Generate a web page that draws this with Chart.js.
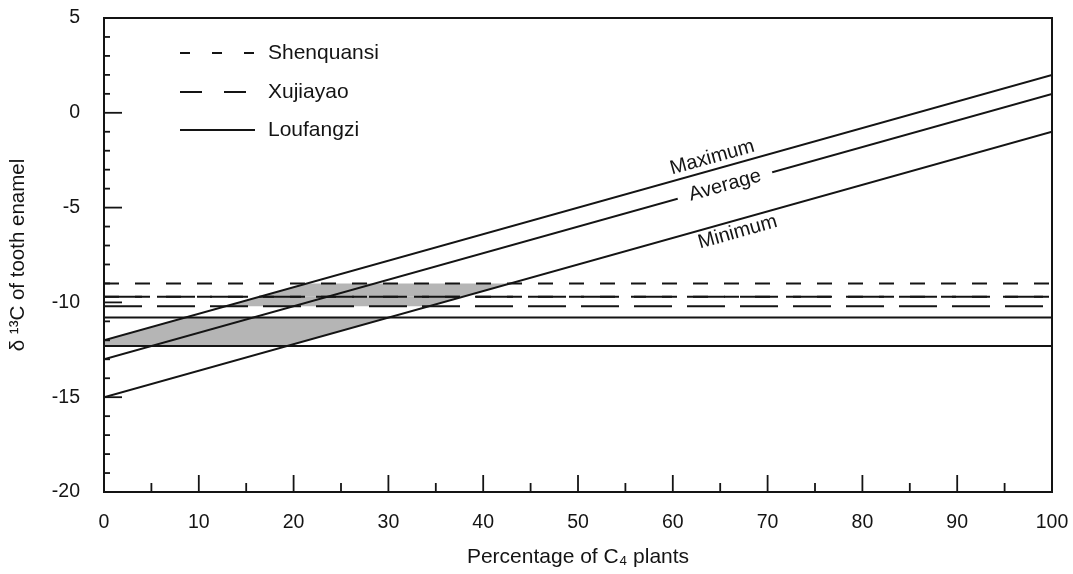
<!DOCTYPE html>
<html>
<head>
<meta charset="utf-8">
<script src="https://cdn.jsdelivr.net/npm/chart.js@4"></script>
<style>
  html, body { margin: 0; padding: 0; background: #fff; }
</style>
</head>
<body>
<canvas id="chart" width="1073" height="574"></canvas>
<script>
// regression lines: enamel d13C vs % C4 plants
const pctC4 = [0, 100];
const enamelMax = [-12, 2];
const enamelAvg = [-13, 1];
const enamelMin = [-15, -1];
const lineLabels = ['Maximum', 'Average', 'Minimum'];

// measured ranges per site
const siteNames = ['Shenquansi', 'Xujiayao', 'Loufangzi'];
const siteHigh = [-9.0, -9.7, -10.8];
const siteLow = [-9.7, -10.2, -12.3];
const siteDash = [[15, 16], [38, 15], []];

const xTicks = [0, 10, 20, 30, 40, 50, 60, 70, 80, 90, 100];
const yTicks = [-20, -15, -10, -5, 0, 5];

const ink = '#141414';
const shade = '#b5b5b5';
const fontFamily = '"Liberation Sans", Arial, Helvetica, sans-serif';

Chart.defaults.font.family = fontFamily;
Chart.defaults.color = ink;

const toPoints = (xs, ys) => xs.map((v, i) => ({ x: v, y: ys[i] }));

const datasets = [];
[enamelMax, enamelAvg, enamelMin].forEach((vals, i) => {
  datasets.push({
    label: lineLabels[i],
    data: toPoints(pctC4, vals),
    borderColor: ink,
    borderWidth: 2,
    pointRadius: 0,
    tension: 0
  });
});
siteNames.forEach((name, i) => {
  [siteHigh[i], siteLow[i]].forEach((v) => {
    datasets.push({
      label: name,
      data: toPoints([0, 100], [v, v]),
      borderColor: ink,
      borderWidth: 2,
      borderDash: siteDash[i],
      pointRadius: 0,
      tension: 0
    });
  });
});

// grey area between min and max lines inside each site's range
const shadeBands = {
  id: 'shadeBands',
  beforeDatasetsDraw(chart) {
    const { ctx, chartArea, scales: { x, y } } = chart;
    ctx.save();
    ctx.fillStyle = shade;
    siteNames.forEach((name, i) => {
      const top = y.getPixelForValue(siteHigh[i]);
      const bot = y.getPixelForValue(siteLow[i]);
      ctx.save();
      ctx.beginPath();
      ctx.rect(chartArea.left, top, chartArea.width, bot - top);
      ctx.clip();
      ctx.beginPath();
      pctC4.forEach((p, k) => {
        const px = x.getPixelForValue(p), py = y.getPixelForValue(enamelMax[k]);
        if (k === 0) ctx.moveTo(px, py); else ctx.lineTo(px, py);
      });
      for (let k = pctC4.length - 1; k >= 0; k--) {
        ctx.lineTo(x.getPixelForValue(pctC4[k]), y.getPixelForValue(enamelMin[k]));
      }
      ctx.closePath();
      ctx.fill();
      ctx.restore();
    });
    ctx.restore();
  }
};

// frame, inward ticks, line labels and legend
const decorations = {
  id: 'decorations',
  afterDatasetsDraw(chart) {
    const { ctx, chartArea: a, scales: { x, y } } = chart;
    ctx.save();
    ctx.strokeStyle = ink;
    ctx.lineWidth = 2;
    ctx.strokeRect(a.left, a.top, a.right - a.left, a.bottom - a.top);

    ctx.lineWidth = 1.8;
    y.ticks.forEach((t) => {
      const py = y.getPixelForValue(t.value);
      const len = t.value % 5 === 0 ? 18 : 6;
      ctx.beginPath();
      ctx.moveTo(a.left, py);
      ctx.lineTo(a.left + len, py);
      ctx.stroke();
    });
    x.ticks.forEach((t) => {
      const px = x.getPixelForValue(t.value);
      const len = t.value % 10 === 0 ? 17 : 9;
      ctx.beginPath();
      ctx.moveTo(px, a.bottom);
      ctx.lineTo(px, a.bottom - len);
      ctx.stroke();
    });

    // labels along the regression lines
    const labelAt = [64.5, 65.5, 66.5];
    const labelOffset = [-12, 0, 12];
    [enamelMax, enamelAvg, enamelMin].forEach((vals, i) => {
      const x0 = x.getPixelForValue(pctC4[0]), y0 = y.getPixelForValue(vals[0]);
      const x1 = x.getPixelForValue(pctC4[1]), y1 = y.getPixelForValue(vals[1]);
      const ang = Math.atan2(y1 - y0, x1 - x0);
      const f = (labelAt[i] - pctC4[0]) / (pctC4[1] - pctC4[0]);
      const cx = x0 + (x1 - x0) * f, cy = y0 + (y1 - y0) * f;
      ctx.save();
      ctx.translate(cx, cy);
      ctx.rotate(ang);
      ctx.font = '20px ' + fontFamily;
      ctx.textAlign = 'center';
      ctx.textBaseline = 'middle';
      if (labelOffset[i] === 0) {
        const w = ctx.measureText(lineLabels[i]).width + 24;
        ctx.fillStyle = '#fff';
        ctx.fillRect(-w / 2, -8, w, 16);
      }
      ctx.fillStyle = ink;
      ctx.fillText(lineLabels[i], 0, labelOffset[i]);
      ctx.restore();
    });

    // legend
    const legendY = [53, 92, 130];
    ctx.font = '21px ' + fontFamily;
    ctx.textAlign = 'left';
    ctx.textBaseline = 'middle';
    ctx.lineWidth = 2;
    siteNames.forEach((name, i) => {
      ctx.beginPath();
      ctx.setLineDash(i === 0 ? [10, 22] : i === 1 ? [22, 22] : []);
      ctx.moveTo(a.left + 76, legendY[i]);
      ctx.lineTo(a.left + 151, legendY[i]);
      ctx.stroke();
      ctx.setLineDash([]);
      ctx.fillStyle = ink;
      ctx.fillText(name, a.left + 164, legendY[i]);
    });
    ctx.restore();
  }
};

const noScalePadding = (s) => {
  s.paddingTop = 0;
  s.paddingBottom = 0;
  s.paddingLeft = 0;
  s.paddingRight = 0;
};

new Chart(document.getElementById('chart'), {
  type: 'line',
  data: { datasets },
  options: {
    responsive: false,
    animation: false,
    layout: { padding: { left: 0, right: 21, top: 18, bottom: 0 } },
    plugins: { legend: { display: false }, tooltip: { enabled: false } },
    scales: {
      x: {
        type: 'linear',
        min: 0,
        max: 100,
        afterFit: (s) => { s.height = 82; noScalePadding(s); },
        grid: { display: false, drawTicks: false, tickLength: 0 },
        border: { display: false },
        ticks: {
          stepSize: 5,
          autoSkip: false,
          maxRotation: 0,
          padding: 19,
          font: { size: 19.5 },
          callback: (v) => (xTicks.includes(v) ? String(v) : '')
        },
        title: {
          display: true,
          text: 'Percentage of C\u2084 plants',
          font: { size: 21 },
          padding: { top: 0, bottom: 4 }
        }
      },
      y: {
        min: -20,
        max: 5,
        afterFit: (s) => { s.width = 104; noScalePadding(s); },
        grid: { display: false, drawTicks: false, tickLength: 0 },
        border: { display: false },
        ticks: {
          stepSize: 1,
          autoSkip: false,
          padding: 24,
          font: { size: 19.5 },
          callback: (v) => (yTicks.includes(v) ? String(v) : '')
        },
        title: {
          display: true,
          text: '\u03b4 \u00b9\u00b3C of tooth enamel',
          font: { size: 20.5 },
          padding: { top: 6, bottom: 0 }
        }
      }
    }
  },
  plugins: [shadeBands, decorations]
});
</script>
</body>
</html>
